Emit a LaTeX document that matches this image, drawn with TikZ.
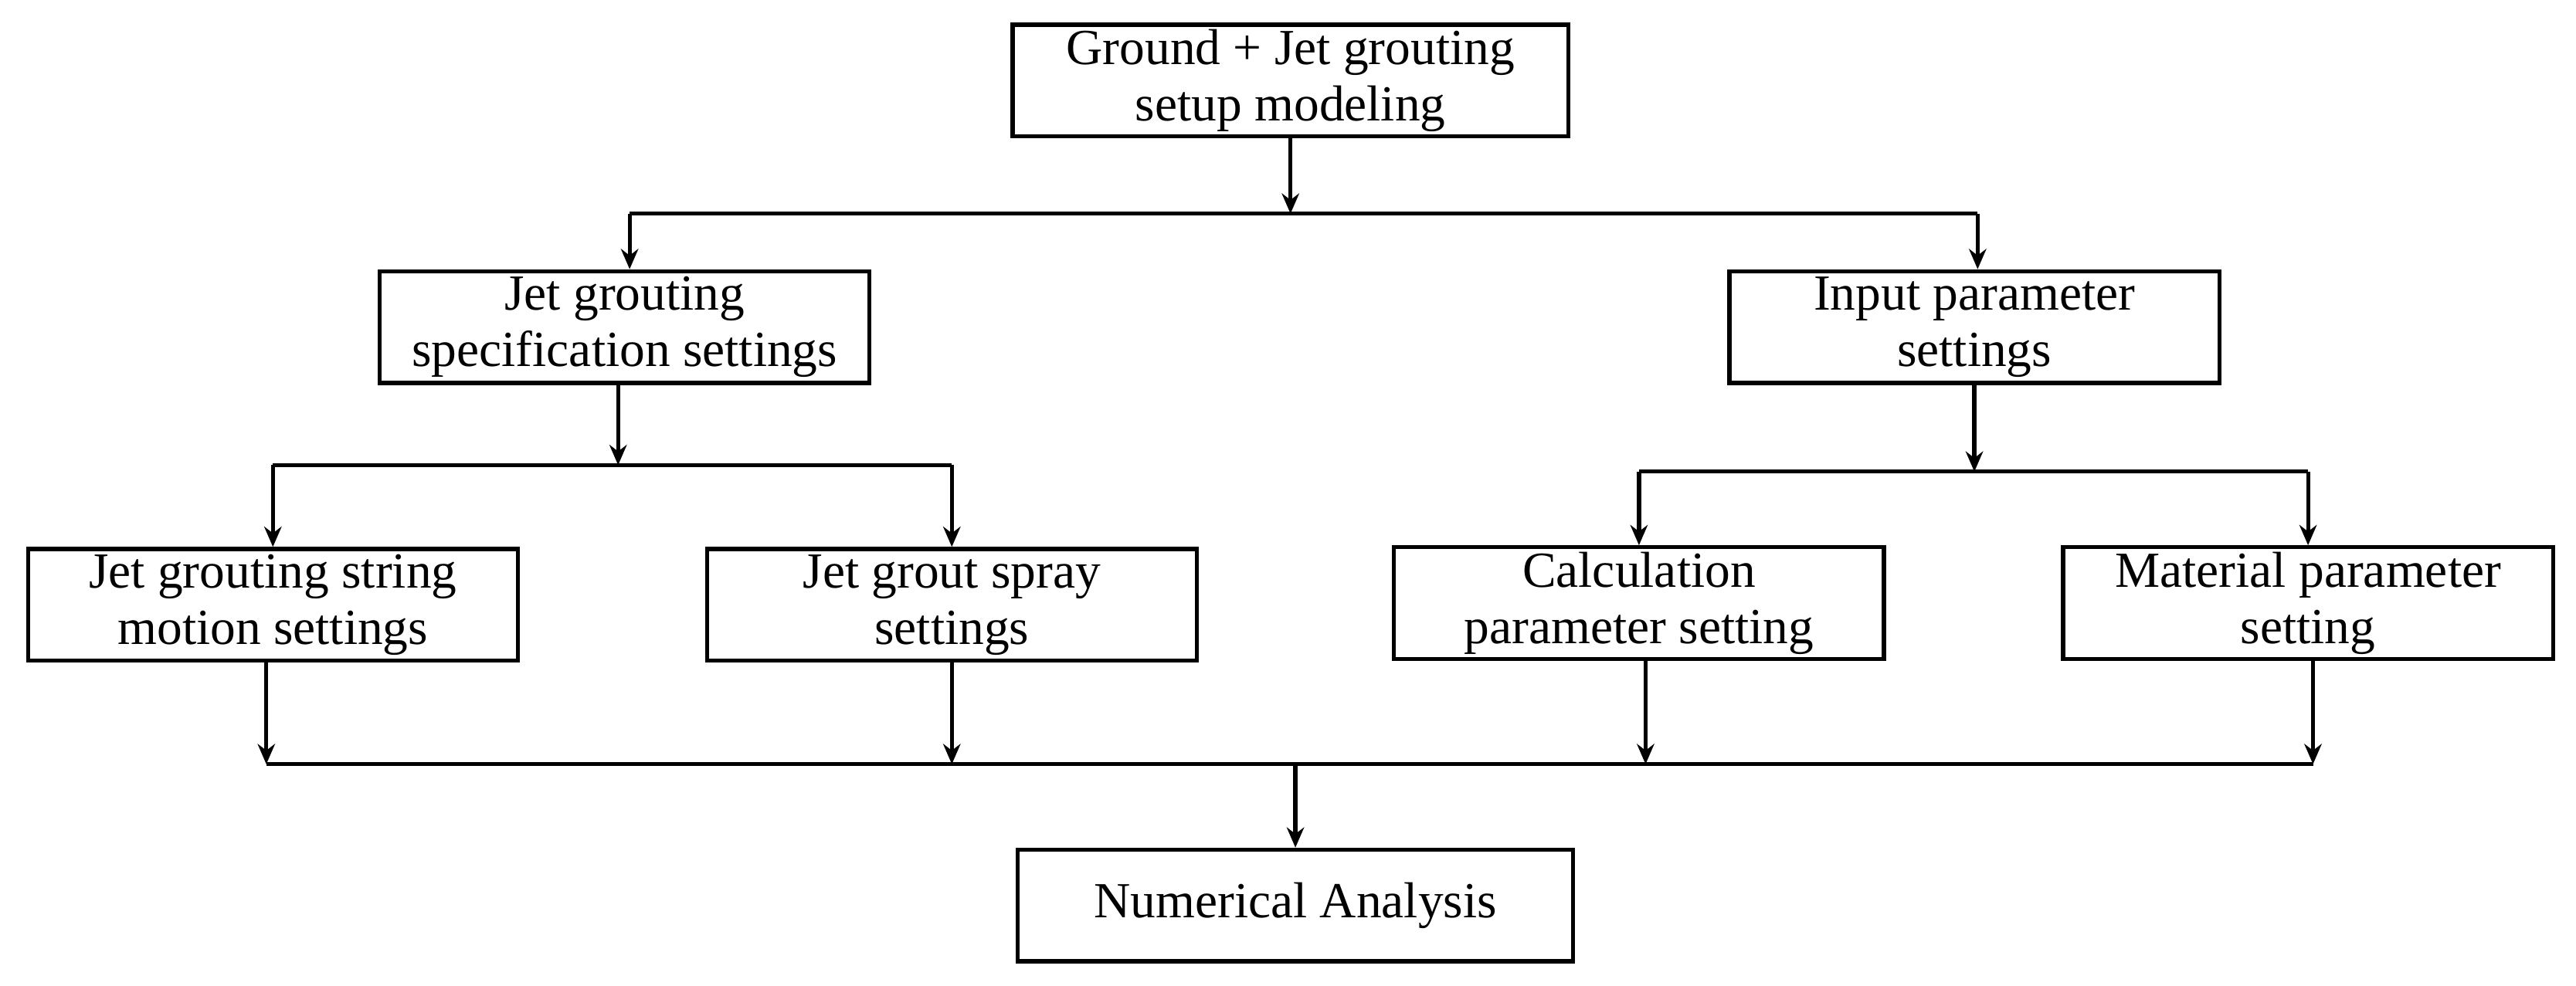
\documentclass[tikz,border=0pt]{standalone}
\usepackage{fontspec}
\setmainfont{Liberation Serif}
\usetikzlibrary{arrows.meta}
\begin{document}
\begin{tikzpicture}[x=0.02cm,y=-0.02cm,
  box/.style={draw,line width=1.4pt,minimum width=5.96cm,minimum height=1.36cm,align=center,
    inner sep=0pt,font=\fontsize{17.5}{19.5}\selectfont},
  ln/.style={line width=1.4pt},
  arr/.style={line width=1.4pt,-{Stealth[length=7pt,width=6pt]}}]
\useasboundingbox (0,0) rectangle (1567,600);
% boxes
\node[box,minimum width=6.76cm] (top) at (785,49) {Ground + Jet grouting\\setup modeling};
\node[box] (spec) at (380,199) {Jet grouting\\specification settings};
\node[box] (inp) at (1201,199) {Input parameter\\settings};
\node[box] (str) at (166,368) {Jet grouting string\\motion settings};
\node[box] (spr) at (579,368) {Jet grout spray\\settings};
\node[box] (calc) at (997,367) {Calculation\\parameter setting};
\node[box] (mat) at (1404,367) {Material parameter\\setting};
\node[box,minimum width=6.76cm] (num) at (788,551) {Numerical Analysis};
% junctions
\coordinate (j1) at (785,130);
\coordinate (j1l) at (383,130);
\coordinate (j1r) at (1203,130);
\coordinate (j2) at (376,283);
\coordinate (j2l) at (166,283);
\coordinate (j2r) at (579,283);
\coordinate (j3) at (1201,287);
\coordinate (j3l) at (997,287);
\coordinate (j3r) at (1404,287);
\coordinate (b1) at (162,465);
\coordinate (b2) at (579,465);
\coordinate (b3) at (1001,465);
\coordinate (b4) at (1407,465);
\coordinate (bm) at (788,465);
% connectors
\draw[arr] (top.south) -- (j1);
\draw[ln] (j1l) -- (j1r);
\draw[arr] (j1l) -- (j1l |- spec.north);
\draw[arr] (j1r) -- (j1r |- inp.north);
\draw[arr] (spec.south -| j2) -- (j2);
\draw[ln] (j2l) -- (j2r);
\draw[arr] (j2l) -- (str.north);
\draw[arr] (j2r) -- (spr.north);
\draw[arr] (inp.south) -- (j3);
\draw[ln] (j3l) -- (j3r);
\draw[arr] (j3l) -- (calc.north);
\draw[arr] (j3r) -- (mat.north);
\draw[arr] (str.south -| b1) -- (b1);
\draw[arr] (spr.south) -- (b2);
\draw[arr] (calc.south -| b3) -- (b3);
\draw[arr] (mat.south -| b4) -- (b4);
\draw[ln] (b1) -- (b4);
\draw[arr] (bm) -- (num.north);
\end{tikzpicture}
\end{document}
